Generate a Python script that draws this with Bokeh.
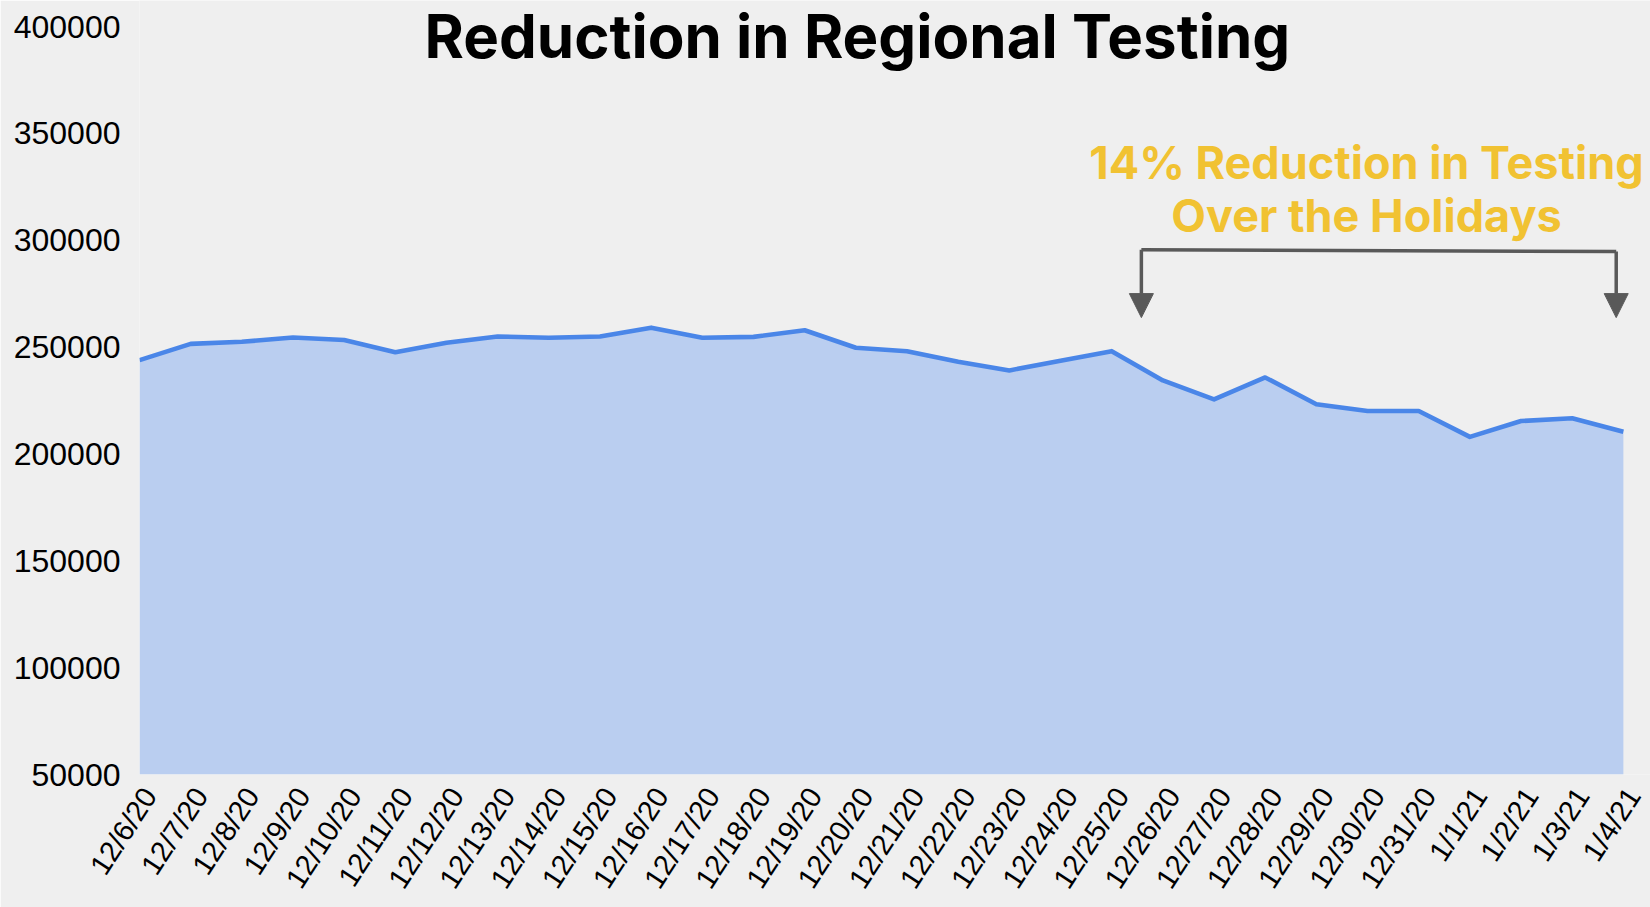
import math
from bokeh.plotting import figure
from bokeh.models import (Range1d, FixedTicker, BasicTickFormatter, Label, Arrow,
                          NormalHead, LinearAxis)
from bokeh.embed import file_html
from bokeh.resources import INLINE

# ---------------- data ----------------
dates = ["12/6/20", "12/7/20", "12/8/20", "12/9/20", "12/10/20", "12/11/20", "12/12/20",
         "12/13/20", "12/14/20", "12/15/20", "12/16/20", "12/17/20", "12/18/20", "12/19/20",
         "12/20/20", "12/21/20", "12/22/20", "12/23/20", "12/24/20", "12/25/20", "12/26/20",
         "12/27/20", "12/28/20", "12/29/20", "12/30/20", "12/31/20", "1/1/21", "1/2/21",
         "1/3/21", "1/4/21"]
tests = [243900, 251500, 252500, 254500, 253300, 247600, 252000,
         255000, 254400, 255000, 259100, 254400, 254800, 257900,
         249700, 248100, 243200, 239100, 243600, 248100, 234400,
         225500, 235800, 223300, 220100, 220100, 208000, 215400,
         216700, 210400]
y_ticks = [50000, 100000, 150000, 200000, 250000, 300000, 350000, 400000]

title_text = "Reduction in Regional Testing"
note_lines = ["14% Reduction in Testing", "Over the Holidays"]

# ---------------- styling ----------------
BG = "#EFEFEF"
LINE = "#4A86E8"
FILL = "#BACEF0"
YELLOW = "#F1C232"
GREY = "#595959"
AXIS_FONT = "Liberation Sans"
HEAD_FONT = "Inter"

x = list(range(len(dates)))
X_END = 29.53          # frame reaches the right edge of the canvas
Y_TOP = 412200         # frame reaches the top edge of the canvas
LABEL_SHIFT = 0.2      # tick labels sit slightly right of their points

p = figure(width=1650, height=907, output_backend="svg", toolbar_location=None,
           x_range=Range1d(0, X_END), y_range=Range1d(y_ticks[0], Y_TOP),
           x_axis_location=None,
           background_fill_color=BG, border_fill_color=BG,
           min_border_left=139, min_border_right=0, min_border_top=0, min_border_bottom=133)
p.outline_line_color = None
p.grid.visible = False

p.varea(x=x, y1=[y_ticks[0]] * len(x), y2=tests, fill_color=FILL, fill_alpha=1.0)
p.line(x=x, y=tests, line_color=LINE, line_width=4.6, line_join="round")

# x axis (own range so the rotated labels sit like the reference)
p.extra_x_ranges = {"lab": Range1d(-LABEL_SHIFT, X_END - LABEL_SHIFT)}
xax = LinearAxis(x_range_name="lab", ticker=FixedTicker(ticks=x),
                 major_label_overrides={i: d for i, d in enumerate(dates)})
p.add_layout(xax, "below")

for ax in (xax, p.yaxis[0]):
    ax.axis_line_color = None
    ax.major_tick_line_color = None
    ax.minor_tick_line_color = None
    ax.major_tick_in = 0
    ax.major_tick_out = 0
    ax.minor_tick_in = 0
    ax.minor_tick_out = 0
    ax.major_label_text_font = AXIS_FONT
    ax.major_label_text_color = "#000000"

p.yaxis.ticker = FixedTicker(ticks=y_ticks)
p.yaxis.formatter = BasicTickFormatter(use_scientific=False)
p.yaxis.major_label_text_font_size = "32px"
p.yaxis.major_label_standoff = 19

xax.major_label_orientation = math.radians(57)
xax.major_label_text_font_size = "29px"
xax.major_label_standoff = 16

# title
p.add_layout(Label(x=14.03, y=395800, text=title_text, text_align="center",
                   text_baseline="middle", text_font=HEAD_FONT, text_font_style="bold",
                   text_font_size="60px", text_color="#000000"))

# annotation text
p.add_layout(Label(x=23.98, y=336400, text=note_lines[0], text_align="center",
                   text_baseline="middle", text_font=HEAD_FONT, text_font_style="bold",
                   text_font_size="45px", text_color=YELLOW))
p.add_layout(Label(x=23.98, y=311800, text=note_lines[1], text_align="center",
                   text_baseline="middle", text_font=HEAD_FONT, text_font_style="bold",
                   text_font_size="45px", text_color=YELLOW))

# bracket with arrows
bx0, bx1 = 19.58, 28.86
by_left, by_right, by_tip = 295600, 294700, 263800
p.line(x=[bx0, bx1], y=[by_left, by_right], line_color=GREY, line_width=3.5)
for bx, by in ((bx0, by_left), (bx1, by_right)):
    p.add_layout(Arrow(x_start=bx, y_start=by, x_end=bx, y_end=by_tip,
                       line_color=GREY, line_width=3.5,
                       end=NormalHead(size=24, fill_color=GREY, line_color=GREY, line_width=1)))

open("out.html", "w").write(file_html(p, INLINE))
